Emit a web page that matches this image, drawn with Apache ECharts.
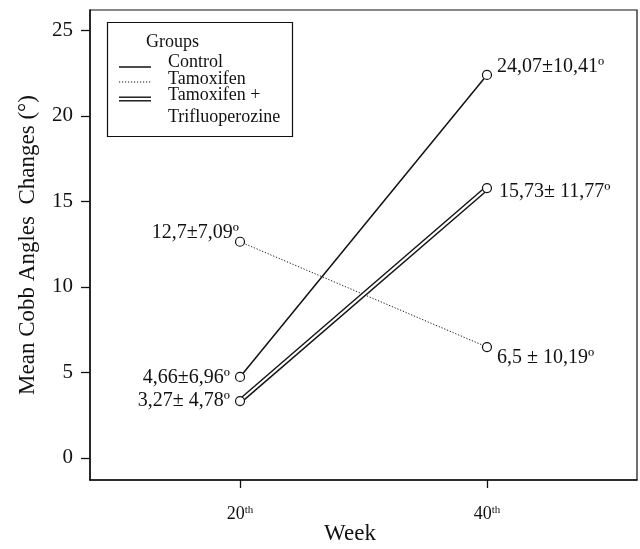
<!DOCTYPE html>
<html>
<head>
<meta charset="utf-8">
<script src="https://cdn.jsdelivr.net/npm/echarts@6/dist/echarts.min.js"></script>
<style>html,body{margin:0;padding:0;background:#fff;}#c{width:640px;height:549px;}</style>
</head>
<body>
<div id="c"></div>
<script>
const weeks = [20, 40];
const yTicks = [0, 5, 10, 15, 20, 25];
const controlValues = [4.73, 22.4];
const tamoxifenValues = [12.64, 6.48];
const comboValues = [3.32, 15.78];
const controlLabels = ['4,66±6,96º', '24,07±10,41º'];
const tamoxifenLabels = ['12,7±7,09º', '6,5 ± 10,19º'];
const comboLabels = ['3,27± 4,78º', '15,73± 11,77º'];
const legendTitle = 'Groups';
const legendNames = ['Control', 'Tamoxifen', 'Tamoxifen +', 'Trifluoperozine'];

const FONT = '"Liberation Serif", "DejaVu Serif", serif';
const labelFont = { fontFamily: FONT, fontSize: 20, color: '#111' };

function pts(vals, labels, cfg) {
  return weeks.map((w, i) => ({
    value: [w, vals[i]],
    label: Object.assign({ show: true, formatter: labels[i] }, labelFont, cfg[i])
  }));
}

const symStyle = { color: '#fff', borderColor: '#111', borderWidth: 1.2 };

const chart = echarts.init(document.getElementById('c'), null, { renderer: 'canvas' });
chart.setOption({
  animation: false,
  backgroundColor: '#fff',
  grid: { left: 90, top: 10, right: 3, bottom: 69, outerBoundsMode: 'none', containLabel: false, show: true, borderColor: '#111', borderWidth: 1.2, backgroundColor: 'transparent' },
  xAxis: {
    type: 'value', min: 7.85, max: 52.15,
    name: 'Week', nameLocation: 'middle', nameGap: 42, nameMoveOverlap: false,
    nameTextStyle: { fontFamily: FONT, fontSize: 23, color: '#111', padding: [0, 27, 0, 0] },
    axisLine: { show: true, onZero: false, lineStyle: { color: '#111', width: 1.5 } },
    axisTick: { show: true, length: 8, customValues: weeks, lineStyle: { color: '#111', width: 1.3 } },
    axisLabel: {
      customValues: weeks, margin: 25,
      formatter: v => '{n|' + v + '}{s|th}',
      rich: {
        n: { fontFamily: FONT, fontSize: 18, color: '#111' },
        s: { fontFamily: FONT, fontSize: 11, color: '#111', verticalAlign: 'top', padding: [0, 0, 6, 0] }
      }
    },
    splitLine: { show: false }
  },
  yAxis: {
    type: 'value', min: -1.3, max: 26.2,
    name: 'Mean Cobb Angles  Changes (°)', nameLocation: 'middle', nameGap: 51, nameMoveOverlap: false,
    nameTextStyle: { fontFamily: FONT, fontSize: 23, color: '#111' },
    axisLine: { show: true, onZero: false, lineStyle: { color: '#111', width: 1.5 } },
    axisTick: { show: true, length: 9, customValues: yTicks, lineStyle: { color: '#111', width: 1.3 } },
    axisLabel: { customValues: yTicks, margin: 17, fontFamily: FONT, fontSize: 21, color: '#111' },
    splitLine: { show: false }
  },
  series: [
    {
      type: 'line', name: 'Control', z: 3,
      symbol: 'circle', symbolSize: 9, itemStyle: symStyle,
      lineStyle: { color: '#111', width: 1.5 },
      data: pts(controlValues, controlLabels, [
        { position: 'left', distance: 5, offset: [0, 1] },
        { position: 'right', distance: 5, offset: [0, -8] }
      ])
    },
    {
      type: 'line', name: 'Tamoxifen', z: 3,
      symbol: 'circle', symbolSize: 9, itemStyle: symStyle,
      lineStyle: { color: '#111', width: 1, type: [1.2, 1.8] },
      data: pts(tamoxifenValues, tamoxifenLabels, [
        { position: 'left', distance: 2, offset: [6, -9] },
        { position: 'right', distance: 5, offset: [0, 11] }
      ])
    },
    {
      type: 'line', name: 'ComboOuter', z: 2, symbol: 'none', silent: true,
      lineStyle: { color: '#111', width: 5 },
      data: weeks.map((w, i) => [w, comboValues[i]])
    },
    {
      type: 'line', name: 'Tamoxifen + Trifluoperozine', z: 3,
      symbol: 'circle', symbolSize: 9, itemStyle: symStyle,
      lineStyle: { color: '#fff', width: 2.2 },
      data: pts(comboValues, comboLabels, [
        { position: 'left', distance: 5, offset: [0, 0] },
        { position: 'right', distance: 7, offset: [0, 4] }
      ])
    }
  ],
  graphic: [
    { type: 'rect', shape: { x: 107.5, y: 22.5, width: 185, height: 114 }, style: { fill: '#fff', stroke: '#111', lineWidth: 1.2 }, z: 10 },
    { type: 'text', x: 146, y: 42, z: 11, style: { text: legendTitle, font: '18px ' + FONT, fill: '#111', verticalAlign: 'middle', textVerticalAlign: 'middle' } },
    { type: 'line', z: 11, shape: { x1: 119, y1: 67, x2: 151, y2: 67 }, style: { stroke: '#111', lineWidth: 1.5 } },
    { type: 'text', x: 168, y: 62, z: 11, style: { text: legendNames[0], font: '18px ' + FONT, fill: '#111', verticalAlign: 'middle', textVerticalAlign: 'middle' } },
    { type: 'line', z: 11, shape: { x1: 119, y1: 82, x2: 151, y2: 82 }, style: { stroke: '#111', lineWidth: 1, lineDash: [1.2, 1.8] } },
    { type: 'text', x: 168, y: 79, z: 11, style: { text: legendNames[1], font: '18px ' + FONT, fill: '#111', verticalAlign: 'middle', textVerticalAlign: 'middle' } },
    { type: 'line', z: 11, shape: { x1: 119, y1: 99, x2: 151, y2: 99 }, style: { stroke: '#111', lineWidth: 5 } },
    { type: 'line', z: 12, shape: { x1: 119, y1: 99, x2: 151, y2: 99 }, style: { stroke: '#fff', lineWidth: 2.2 } },
    { type: 'text', x: 168, y: 95, z: 11, style: { text: legendNames[2], font: '18px ' + FONT, fill: '#111', verticalAlign: 'middle', textVerticalAlign: 'middle' } },
    { type: 'text', x: 168, y: 117, z: 11, style: { text: legendNames[3], font: '18px ' + FONT, fill: '#111', verticalAlign: 'middle', textVerticalAlign: 'middle' } }
  ]
});
</script>
</body>
</html>
